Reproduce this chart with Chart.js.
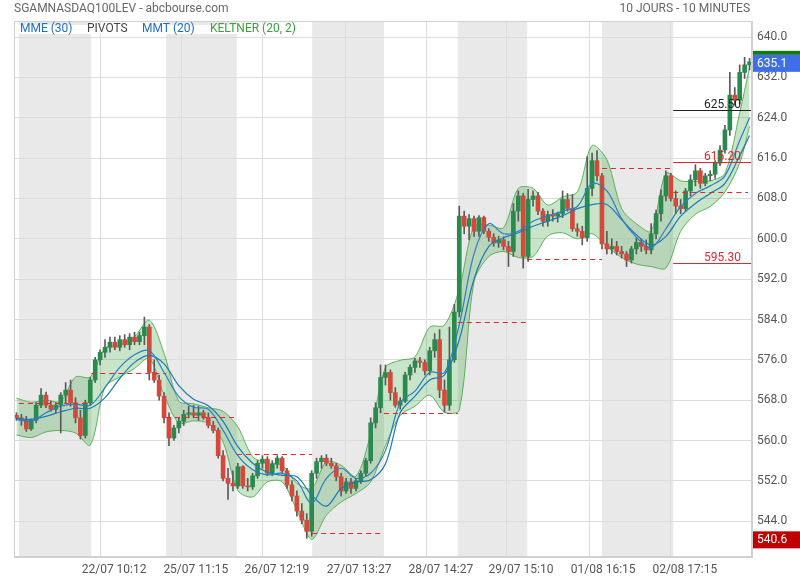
<!DOCTYPE html>
<html>
<head>
<meta charset="utf-8">
<script src="https://cdn.jsdelivr.net/npm/chart.js@4.4.1/dist/chart.umd.min.js"></script>
<style>
  body { margin: 0; background: #fff; }
  canvas { display: block; }
</style>
</head>
<body>
<canvas id="chart" width="800" height="580"></canvas>
<script>
// 10-minute candles, one entry per (coarsened) candle index
const opens = [565.0,564.5,564.2,562.3,564.0,567.0,569.0,567.0,566.2,567.0,569.0,570.0,567.5,564.5,561.0,
  567.5,572.0,576.0,577.5,578.5,579.5,578.5,580.0,579.0,580.5,579.6,580.8,582.5,573.5,572.0,
  568.8,564.5,560.5,562.5,563.8,565.2,565.5,565.0,565.5,564.6,563.0,562.0,557.0,552.5,551.5,
  551.0,554.8,551.0,550.8,553.0,555.5,556.3,553.5,555.3,556.5,554.0,551.2,549.0,546.0,544.2,
  542.0,553.5,555.8,556.5,555.5,555.0,552.8,550.0,551.8,550.5,552.0,553.5,556.0,563.5,566.5,
  572.5,573.5,569.5,567.0,567.8,573.0,574.5,575.8,575.5,573.8,577.8,580.0,570.0,567.0,576.0,
  585.5,604.5,602.5,604.0,601.5,604.2,601.5,600.3,599.2,599.8,598.5,597.5,605.5,608.5,
  596.5,607.8,608.5,605.5,603.5,604.8,604.5,605.0,607.8,606.0,602.0,601.5,600.2,610.0,615.5,
  612.5,599.0,598.0,598.5,597.5,597.0,595.8,598.0,599.3,598.5,597.8,601.0,605.0,608.5,612.5,
  608.0,606.5,606.0,609.5,611.7,613.5,611.0,612.5,612.8,615.0,617.6,621.6,628.5,627.5,633.0,634.5];
const highs = [565.5,565.2,564.8,564.3,567.5,570.3,569.6,567.8,567.5,569.5,571.5,572.0,568.5,566.0,568.0,
  572.5,576.5,578.0,580.0,580.5,580.5,580.8,581.0,581.2,581.5,581.5,584.5,583.0,576.0,573.0,
  569.5,565.5,563.0,564.5,566.0,566.8,567.0,566.8,566.0,565.5,563.8,562.5,558.0,554.5,554.0,
  555.5,555.0,552.5,553.5,556.0,557.0,556.8,556.0,557.0,556.8,554.5,552.0,550.0,547.5,545.5,
  554.0,556.5,557.0,557.2,556.5,555.5,553.5,552.5,552.5,552.5,554.0,556.5,564.5,567.5,575.0,
  575.0,574.0,570.5,568.5,573.5,575.0,576.3,576.5,576.0,578.5,581.2,582.0,572.0,582.5,587.0,
  606.5,605.5,604.8,604.5,604.6,604.5,602.0,601.0,600.5,600.4,599.5,607.0,609.5,609.0,
  609.8,609.5,609.2,606.0,605.5,605.8,605.3,609.5,609.0,608.8,603.0,602.5,616.3,617.0,617.5,
  613.0,601.5,600.0,599.5,598.5,597.5,598.5,600.2,600.0,599.8,603.0,605.7,609.7,613.5,613.0,
  609.5,607.8,610.0,612.7,614.7,614.0,613.0,613.5,615.5,618.5,622.5,633.0,630.0,634.5,636.0,635.8];
const lows = [564.0,563.0,561.8,562.0,563.5,566.5,566.5,565.8,565.5,561.5,567.5,566.8,563.5,560.3,560.5,
  567.0,571.5,575.0,576.5,577.5,578.0,577.8,578.5,578.0,579.0,579.0,579.0,572.0,571.5,568.0,
  563.5,559.0,560.0,561.5,563.0,564.5,564.5,564.0,564.2,562.5,561.5,556.5,552.0,548.3,550.0,
  550.5,550.5,550.0,550.3,552.5,554.5,553.0,553.0,554.5,553.5,550.5,548.0,545.0,543.5,540.6,
  541.0,552.5,554.5,555.0,554.5,552.0,549.0,549.5,549.5,550.0,551.5,553.0,555.5,562.5,565.5,
  571.0,568.0,566.6,566.2,567.5,572.0,573.5,574.5,573.0,573.0,576.5,568.5,565.6,566.0,575.5,
  584.5,601.0,599.8,600.5,600.5,601.0,599.5,598.5,598.3,597.8,594.5,596.5,603.5,594.2,
  595.5,606.5,604.8,602.5,602.5,603.5,603.3,604.2,605.5,601.5,600.5,598.8,599.5,608.5,611.5,
  598.0,597.0,597.0,596.8,596.2,594.5,595.2,597.0,597.5,597.0,597.0,600.0,603.5,607.5,607.5,
  605.0,605.0,605.5,608.5,610.5,610.0,610.5,611.5,612.0,614.5,617.0,620.5,626.5,626.8,631.8,633.5];
const closes = [564.5,564.0,562.3,564.0,567.0,569.0,567.0,566.2,567.0,569.0,570.0,567.5,564.5,561.0,567.5,
  572.0,576.0,577.5,578.5,579.5,578.5,580.0,579.0,580.5,579.6,580.8,582.5,573.5,572.0,568.8,
  564.5,560.5,562.5,563.8,565.2,565.5,565.0,565.5,564.6,563.0,562.0,557.0,552.5,551.5,551.0,
  554.8,551.0,550.8,553.0,555.5,556.3,553.5,555.3,556.5,554.0,551.2,549.0,546.0,544.2,542.0,
  553.5,555.8,556.5,555.5,555.0,552.8,550.0,551.8,550.5,552.0,553.5,556.0,563.5,566.5,572.5,
  573.5,569.5,567.0,567.8,573.0,574.5,575.8,575.5,573.8,577.8,580.0,570.0,567.0,576.0,585.5,
  604.5,602.5,604.0,601.5,604.2,601.5,600.3,599.2,599.8,598.5,597.5,605.5,608.5,596.5,
  607.8,608.5,605.5,603.5,604.8,604.5,605.0,607.8,606.0,602.0,601.5,600.2,610.0,615.5,612.5,
  599.0,598.0,598.5,597.5,597.0,595.8,598.0,599.3,598.5,597.8,601.0,605.0,608.5,612.5,608.0,
  606.5,606.0,609.5,611.7,613.5,611.0,612.5,612.8,615.0,617.6,621.6,628.5,627.5,633.0,634.5,635.1];

// indicator readings, taken every third candle
const bandIdx = [0,3,6,9,12,15,18,21,24,27,30,33,36,39,42,45,48,51,54,57,60,63,66,69,72,75,78,81,84,87,
  90,93,96,99,102,105,108,111,114,117,120,123,126,129,132,135,138,141,144,147,149];
const keltnerUp = [568.4,567.6,568.0,567.8,572.6,572.6,578.3,578.9,580.6,583.9,577.3,567.8,567.3,566.5,565.8,
  562.7,556.8,555.6,555.1,551.5,550.5,555.8,555.1,552.9,561.4,574.5,575.9,576.6,582.5,582.9,
  590.0,602.5,602.7,602.2,610.0,610.0,606.7,608.3,609.3,618.5,615.7,606.0,603.0,601.5,613.0,
  611.5,611.4,611.5,613.0,625.0,634.0];
const keltnerLow = [561.1,560.6,561.7,562.0,561.5,559.1,570.6,572.6,574.3,576.3,569.0,563.5,563.9,563.4,559.7,
  550.1,548.8,551.8,551.8,546.2,540.4,545.2,547.8,549.5,551.8,559.0,565.0,566.8,569.0,565.6,
  566.0,591.5,596.5,597.5,596.3,596.5,600.6,601.2,600.0,601.0,598.5,596.3,595.0,594.5,594.2,
  601.5,604.9,606.4,609.3,615.0,622.3];
const mmt20 = [564.2,563.8,565.5,566.8,567.2,567.0,570.5,574.5,577.0,577.8,573.5,568.7,566.6,566.2,562.0,
  557.0,554.2,553.2,553.5,552.0,547.6,552.5,554.5,552.5,553.5,558.0,567.5,569.8,573.5,573.5,
  583.0,597.0,603.0,601.0,601.5,603.5,604.5,605.5,606.4,611.0,609.5,604.0,600.3,598.2,602.0,
  606.4,609.0,610.5,612.5,619.5,624.0];
const mme30 = [564.4,564.2,564.8,565.7,566.4,566.4,568.5,572.3,575.5,576.9,575.2,570.9,568.2,566.9,563.8,
  558.8,555.5,553.7,553.1,552.8,549.2,547.0,550.5,551.8,552.2,555.4,565.5,568.8,572.0,573.0,
  580.0,592.0,598.5,600.2,601.2,602.5,603.5,604.6,606.0,606.8,606.8,603.8,600.8,598.8,600.5,
  604.5,607.0,609.0,611.0,616.5,620.5];

// sessions (candle index where each day starts), daily pivots
const dayEdges = [0.5,15.2,30.4,44.8,60.1,74.7,89.7,103.8,119.0,133.5,149.5];
const pivotLevels = [567.4,573.4,564.6,557.3,541.6,565.4,583.5,596.0,614.0,609.3];
const lastLevels = [625.5,615.2,595.3];
const lastLabels = ['625.50','615.20','595.30'];

const xTickIdx = [17,33.6,50.1,66.8,83.4,99.7,116.4,133.0];
const xTickLabels = ['22/07 10:12','25/07 11:15','26/07 12:19','27/07 13:27','28/07 14:27','29/07 15:10','01/08 16:15','02/08 17:15'];
const yTicks = [544,552,560,568,576,584,592,600,608,616,624,632,640];
const lastPrice = 635.1, lowPrice = 540.6;

const FONT = 'Roboto, "Open Sans", sans-serif';
const RED = '#e5262c';

function pts(vals) { return vals.map((v, i) => ({ x: bandIdx[i], y: v })); }

const decor = {
  id: 'decor',
  beforeDraw(chart) {
    const { ctx, chartArea: a, scales: { x } } = chart;
    ctx.save();
    ctx.fillStyle = '#fff';
    ctx.fillRect(0, 0, chart.width, chart.height);
    ctx.fillStyle = '#e9e9e9';
    for (let d = 0; d < dayEdges.length - 1; d += 2) {
      const x0 = x.getPixelForValue(dayEdges[d]), x1 = x.getPixelForValue(dayEdges[d + 1]);
      ctx.fillRect(x0, a.top, x1 - x0, a.bottom - a.top);
    }
    ctx.restore();
  },
  afterDatasetsDraw(chart) {
    const { ctx, chartArea: a, scales: { x, y } } = chart;
    ctx.save();
    ctx.lineWidth = 1;
    ctx.strokeStyle = RED;
    ctx.setLineDash([5, 4]);
    pivotLevels.forEach((lv, d) => {
      const yy = Math.round(y.getPixelForValue(lv)) + 0.5;
      ctx.beginPath();
      ctx.moveTo(x.getPixelForValue(dayEdges[d]), yy);
      ctx.lineTo(Math.min(x.getPixelForValue(dayEdges[d + 1]), a.right - 4), yy);
      ctx.stroke();
    });
    ctx.setLineDash([]);
    const x0 = x.getPixelForValue(dayEdges[dayEdges.length - 2]);
    ctx.font = '12px ' + FONT;
    ctx.textAlign = 'right';
    ctx.textBaseline = 'alphabetic';
    lastLevels.forEach((lv, i) => {
      const yy = Math.round(y.getPixelForValue(lv)) + 0.5;
      const col = i === 0 ? '#222' : RED;
      ctx.strokeStyle = col;
      ctx.beginPath();
      ctx.moveTo(x0, yy);
      ctx.lineTo(a.right, yy);
      ctx.stroke();
      ctx.fillStyle = col;
      ctx.fillText(lastLabels[i], a.right - 11, yy - 3);
    });
    ctx.restore();
  },
  afterDraw(chart) {
    const { ctx, chartArea: a, scales: { y } } = chart;
    ctx.save();
    ctx.strokeStyle = '#d0d0d0';
    ctx.lineWidth = 1;
    ctx.strokeRect(a.left + 0.5, a.top + 0.5, a.right - a.left - 1, a.bottom - a.top - 1);

    ctx.font = '12px ' + FONT;
    ctx.textBaseline = 'middle';
    ctx.fillStyle = '#666';
    ctx.textAlign = 'left';
    ctx.fillText('SGAMNASDAQ100LEV - abcbourse.com', 14, 9);
    ctx.textAlign = 'right';
    ctx.fillText('10 JOURS - 10 MINUTES', 750, 9);

    // legend row
    ctx.fillStyle = '#fff';
    ctx.fillRect(a.left + 1, 25, 285, 9);
    ctx.textAlign = 'left';
    const items = [['MME (30)', '#1f6fc5', 20], ['PIVOTS', '#444', 87], ['MMT (20)', '#1f6fc5', 142], ['KELTNER (20, 2)', '#3d9e3d', 210]];
    items.forEach(([t, c, xx]) => { ctx.fillStyle = c; ctx.fillText(t, xx, 29); });

    // price tags
    const tag = (v, bg, dy) => {
      const cy = y.getPixelForValue(v) + dy;
      ctx.fillStyle = bg;
      ctx.fillRect(a.right + 1, cy - 8.5, chart.width - a.right - 1, 17);
      ctx.fillStyle = '#fff';
      ctx.fillText(v.toFixed(1), a.right + 5, cy + 0.5);
      return cy;
    };
    const cy = y.getPixelForValue(lastPrice) + 1.5;
    ctx.fillStyle = '#137a13';
    ctx.fillRect(a.right + 1, cy - 12.5, chart.width - a.right - 1, 4);
    tag(lastPrice, '#3f6fe6', 1.5);
    tag(lowPrice, '#c00000', 1.5);
    ctx.restore();
  }
};

const candleBodies = opens.map((o, i) => ({ x: i, y: [o, closes[i]] }));
const candleWicks = lows.map((l, i) => ({ x: i, y: [l, highs[i]] }));
const bodyColors = opens.map((o, i) => closes[i] >= o ? '#2a8a4e' : '#d3493b');

new Chart(document.getElementById('chart'), {
  type: 'bar',
  data: {
    datasets: [
      { type: 'line', data: pts(keltnerUp), borderColor: '#5cb25c', borderWidth: 1, pointRadius: 0,
        tension: 0.3, fill: '+1', backgroundColor: 'rgba(76,170,76,0.3)', order: 5 },
      { type: 'line', data: pts(keltnerLow), borderColor: '#5cb25c', borderWidth: 1, pointRadius: 0,
        tension: 0.3, fill: false, order: 5 },
      { data: candleWicks, backgroundColor: '#5a5a5a', barThickness: 1, grouped: false, order: 3 },
      { data: candleBodies, backgroundColor: bodyColors, barThickness: 4, minBarLength: 1, grouped: false, order: 2 },
      { type: 'line', data: pts(mme30), borderColor: '#1f78b4', borderWidth: 1.2, pointRadius: 0, tension: 0.35, fill: false, order: 1 },
      { type: 'line', data: pts(mmt20), borderColor: '#2a7fc0', borderWidth: 1.2, pointRadius: 0, tension: 0.35, fill: false, order: 0 }
    ]
  },
  options: {
    responsive: false,
    animation: false,
    devicePixelRatio: 1,
    layout: { padding: { left: 14, top: 21, right: 0, bottom: 0 } },
    plugins: { legend: { display: false }, tooltip: { enabled: false } },
    scales: {
      x: {
        type: 'linear',
        min: -0.5,
        max: 149.5,
        offset: false,
        afterBuildTicks: (axis) => { axis.ticks = xTickIdx.map(v => ({ value: v })); },
        afterFit: (axis) => { axis.height = 23; },
        grid: { color: '#dcdcdc', drawTicks: false, offset: false },
        border: { color: '#d0d0d0' },
        ticks: {
          autoSkip: false, maxRotation: 0, padding: 6, labelOffset: 14,
          color: '#555', font: { family: FONT, size: 12 },
          callback: (v, i) => xTickLabels[i]
        }
      },
      y: {
        position: 'right',
        min: 536.9,
        max: 643.2,
        afterBuildTicks: (axis) => { axis.ticks = yTicks.map(v => ({ value: v })); },
        afterFit: (axis) => { axis.width = 48; },
        grid: { color: '#dcdcdc', drawTicks: false },
        border: { color: '#d0d0d0' },
        ticks: {
          padding: 5, labelOffset: 0, color: '#555', font: { family: FONT, size: 12 },
          callback: (v) => v.toFixed(1)
        }
      }
    }
  },
  plugins: [decor]
});
</script>
</body>
</html>
